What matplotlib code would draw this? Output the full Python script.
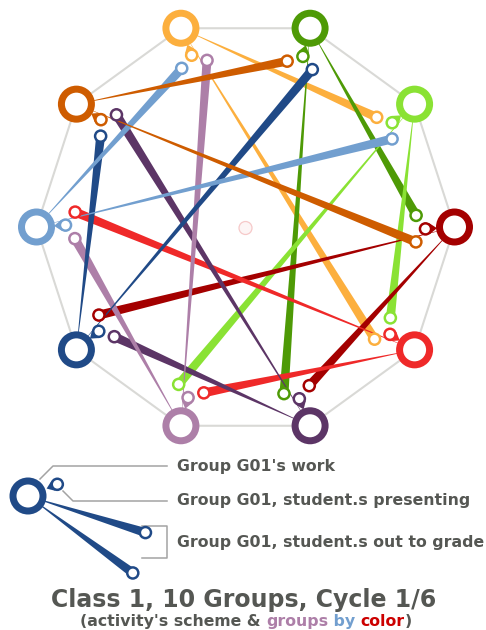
import numpy as np
import matplotlib
matplotlib.use("Agg")
import matplotlib.pyplot as plt
from matplotlib.patches import Circle, Polygon

# ---------------- data ----------------
# groups in clockwise order, starting at the top-left vertex
group_names = ["G04", "G05", "G06", "G07", "G08", "G09", "G10", "G01", "G02", "G03"]
group_colors = ["#fcaf3e", "#4e9a06", "#8ae234", "#a40000", "#ef2929",
                "#5c3566", "#ad7fa8", "#204a87", "#729fcf", "#ce5c00"]
# each group sends students out to grade two other groups
grade_near = [2, 3, 4, 5, 6, 7, 8, 9, 0, 1]   # two steps clockwise
grade_far = [4, 5, 6, 7, 8, 9, 0, 1, 2, 3]    # four steps clockwise

title = "Class 1, 10 Groups, Cycle 1/6"
subtitle_parts = ["(activity's scheme & ", "groups", " by ", "color", ")"]
subtitle_colors = ["#555753", "#ad7fa8", "#729fcf", "#cc0000", "#555753"]
legend_texts = ["Group G01's work", "Group G01, student.s presenting",
                "Group G01, student.s out to grade"]

# ---------------- layout ----------------
W, H = 486, 630
CX, CY, R = 245.5, 227.0, 209.0
TEXT = "#555753"
EDGE = "#d9d9d6"
LEAD = "#a3a3a3"

fig = plt.figure(figsize=(W / 100, H / 100), dpi=100)
ax = fig.add_axes([0, 0, 1, 1])
ax.set_xlim(0, W)
ax.set_ylim(H, 0)
ax.axis("off")

n = len(group_colors)
ang = np.deg2rad(108 - 36 * np.arange(n))


def polar(r, a):
    return np.array([CX + r * np.cos(a), CY - r * np.sin(a)])


nodes = [polar(R, a) for a in ang]


def ring(c, color, ro, ri, z):
    ax.add_patch(Circle(c, ro, facecolor=color, edgecolor="none", zorder=z))
    ax.add_patch(Circle(c, ri, facecolor="white", edgecolor="none", zorder=z + 0.01))


def wedge(p0, p1, color, w, z):
    d = p1 - p0
    d = d / np.hypot(*d)
    nn = np.array([-d[1], d[0]])
    ax.add_patch(Polygon([p0, p1 + nn * w / 2, p1 - nn * w / 2], closed=True,
                         facecolor=color, edgecolor="none", zorder=z))


def presenting(c, node, color, z):
    u = node - c
    u = u / np.hypot(*u)
    nn = np.array([-u[1], u[0]])
    r, D = 6.8, 11.5
    th = np.arccos(r / D)
    tip = c + u * D
    t1 = c + r * (np.cos(th) * u + np.sin(th) * nn)
    t2 = c + r * (np.cos(th) * u - np.sin(th) * nn)
    ax.add_patch(Polygon([tip, t1, t2], closed=True, facecolor=color,
                         edgecolor="none", zorder=z))
    ring(c, color, 6.8, 4.3, z)


# decagon outline
poly = np.array(nodes + [nodes[0]])
ax.plot(poly[:, 0], poly[:, 1], color=EDGE, lw=1.5, zorder=1, solid_capstyle="round")

# faint centre mark
ax.add_patch(Circle((CX, CY + 1), 6.5, facecolor="#fdf5f5", edgecolor="#f6c9c9",
                    lw=0.9, zorder=1))

# grading wedges
for i in range(n):
    for tgt, off in ((grade_near[i], 3.9), (grade_far[i], -5.0)):
        end = polar(171, ang[tgt] + np.deg2rad(off))
        wedge(nodes[i], end, group_colors[i], 9.0, 2)
        ring(end, group_colors[i], 6.8, 4.3, 3)

# presenting rings and group nodes
for i in range(n):
    p = polar(180, ang[i] - np.deg2rad(0.6))
    presenting(p, nodes[i], group_colors[i], 4)
    ring(nodes[i], group_colors[i], 18.5, 11.5, 5)

# ---------------- legend ----------------
lc = group_colors[7]
L = np.array([28.0, 496.0])
for a_deg, dist in ((-17.3, 123.0), (-36.3, 130.0)):
    a = np.deg2rad(a_deg)
    end = L + dist * np.array([np.cos(a), -np.sin(a)])
    wedge(L, end, lc, 9.0, 2)
    ring(end, lc, 6.8, 4.3, 3)
presenting(np.array([57.3, 484.3]), L, lc, 4)
ring(L, lc, 18.5, 11.5, 5)

ax.plot([167, 53, 40], [466, 466, 479], color=LEAD, lw=1.1, zorder=1)
ax.plot([167, 73, 63], [501, 501, 491], color=LEAD, lw=1.1, zorder=1)
ax.plot([142, 167, 167, 142], [526, 526, 558, 558], color=LEAD, lw=1.1, zorder=1)

for txt, yb in zip(legend_texts, (471.5, 505.5, 546.5)):
    ax.text(177, yb, txt, fontsize=11.35, fontweight="bold", color=TEXT,
            family="DejaVu Sans", va="baseline", ha="left")

ax.text(W / 2 + 1, 606.5, title, fontsize=17.0, fontweight="bold", color=TEXT,
        family="DejaVu Sans", va="baseline", ha="center")

# multi-coloured subtitle
renderer = fig.canvas.get_renderer()
SUB = 11.3


def width_of(s):
    t = ax.text(0, 0, "|" + s + "|", fontsize=SUB, fontweight="bold", family="DejaVu Sans")
    w1 = t.get_window_extent(renderer).width
    t.remove()
    t = ax.text(0, 0, "||", fontsize=SUB, fontweight="bold", family="DejaVu Sans")
    w2 = t.get_window_extent(renderer).width
    t.remove()
    return w1 - w2


widths = [width_of(s) for s in subtitle_parts]
x = W / 2 + 3 - sum(widths) / 2
for s, c, w in zip(subtitle_parts, subtitle_colors, widths):
    ax.text(x, 625.7, s, fontsize=SUB, fontweight="bold", color=c,
            family="DejaVu Sans", va="baseline", ha="left")
    x += w

fig.savefig("out.png", dpi=100)
